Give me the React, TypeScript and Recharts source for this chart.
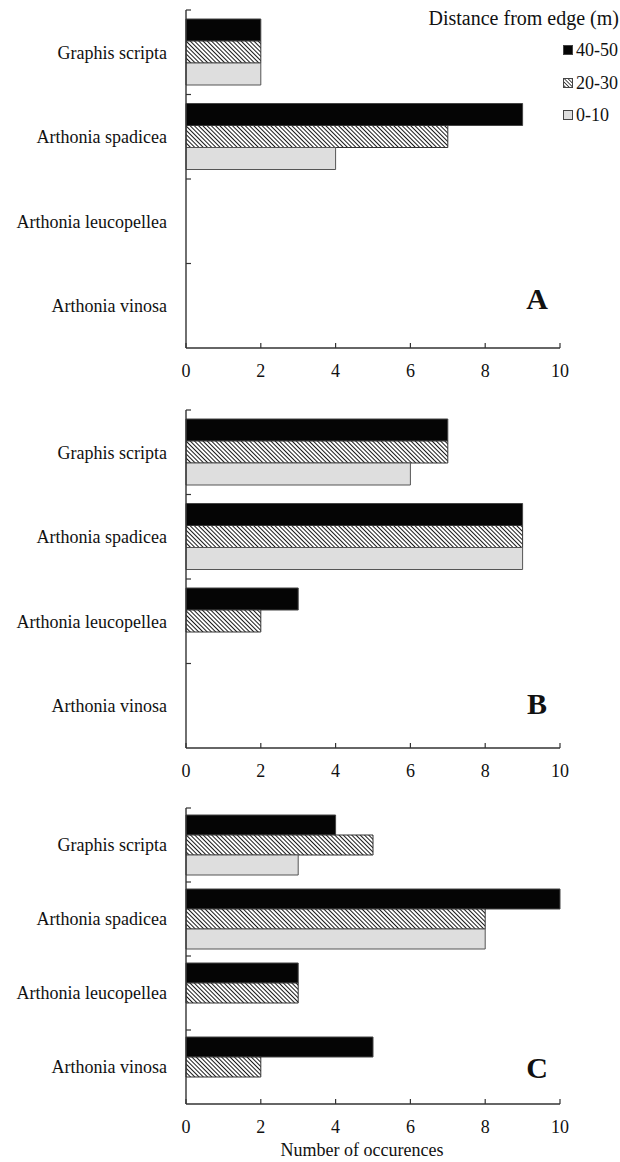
import React from "react";
import { BarChart, Bar, XAxis, YAxis } from "recharts";

// species on the vertical axis, top to bottom
const species = [
  "Graphis scripta",
  "Arthonia spadicea",
  "Arthonia leucopellea",
  "Arthonia vinosa",
];

// occurrences per distance class, one array per panel, same order as species
const panelA_40_50 = [2, 9, 0, 0];
const panelA_20_30 = [2, 7, 0, 0];
const panelA_0_10 = [2, 4, 0, 0];

const panelB_40_50 = [7, 9, 3, 0];
const panelB_20_30 = [7, 9, 2, 0];
const panelB_0_10 = [6, 9, 0, 0];

const panelC_40_50 = [4, 10, 3, 5];
const panelC_20_30 = [5, 8, 3, 2];
const panelC_0_10 = [3, 8, 0, 0];

const xTicks = [0, 2, 4, 6, 8, 10];

const FONT = '"Liberation Serif", "Times New Roman", serif';
const AXIS = "#333";
const LABEL_GAP = 19;

function rows(far: number[], mid: number[], near: number[]) {
  return species.map((name, i) => ({
    name,
    "40-50": far[i],
    "20-30": mid[i],
    "0-10": near[i],
  }));
}

// species name plus a short inward tick at the top edge of its band
function SpeciesTick(props: any) {
  const { x, y, payload, band } = props;
  const half = payload && typeof payload.offset === "number" && payload.offset > 0 ? payload.offset : band / 2;
  const axisX = x + LABEL_GAP;
  return (
    <g>
      <line x1={axisX} y1={y - half} x2={axisX + 5} y2={y - half} stroke={AXIS} strokeWidth={1.2} />
      <text
        x={x}
        y={y}
        dy="0.35em"
        textAnchor="end"
        fontFamily={FONT}
        fontSize={18}
        fill="#111"
      >
        {payload.value}
      </text>
    </g>
  );
}

interface PanelProps {
  id: string;
  data: ReturnType<typeof rows>;
  top: number;
  height: number;
  axisHeight: number;
  barSize: number;
  title?: string;
}

function Panel({ id, data, top, height, axisHeight, barSize, title }: PanelProps) {
  const hatch = `hatch-${id}`;
  const band = (height - 10 - axisHeight) / species.length;
  return (
    <div style={{ position: "absolute", left: 0, top }}>
      <BarChart
        width={620}
        height={height}
        data={data}
        layout="vertical"
        margin={{ top: 10, right: 60, bottom: 0, left: 0 }}
        barGap={0}
        barSize={barSize}
      >
        <defs>
          <pattern
            id={hatch}
            width="3"
            height="3"
            patternUnits="userSpaceOnUse"
            patternTransform="rotate(-45)"
          >
            <rect width="3" height="3" fill="#fff" />
            <line x1="0" y1="0" x2="0" y2="3" stroke="#000" strokeWidth="1.8" />
          </pattern>
        </defs>
        <YAxis
          type="category"
          dataKey="name"
          width={186}
          axisLine={{ stroke: AXIS, strokeWidth: 1.4 }}
          tickLine={false}
          tickSize={0}
          tickMargin={LABEL_GAP}
          tick={<SpeciesTick band={band} />}
        />
        <XAxis
          type="number"
          domain={[0, 10]}
          ticks={xTicks}
          height={axisHeight}
          tickSize={-5}
          tickMargin={21}
          axisLine={{ stroke: AXIS, strokeWidth: 1.4 }}
          tickLine={{ stroke: AXIS, strokeWidth: 1.2 }}
          tick={{ fontFamily: FONT, fontSize: 18, fill: "#111" }}
          label={
            title
              ? {
                  value: title,
                  position: "insideBottom",
                  offset: 6,
                  dx: -11,
                  style: { fontFamily: FONT, fontSize: 18, fill: "#111" },
                }
              : undefined
          }
        />
        <Bar dataKey="40-50" fill="#050505" stroke="#444" strokeWidth={1} isAnimationActive={false} />
        <Bar dataKey="20-30" fill={`url(#${hatch})`} stroke="#333" strokeWidth={1} isAnimationActive={false} />
        <Bar dataKey="0-10" fill="#dedede" stroke="#555" strokeWidth={1} isAnimationActive={false} />
      </BarChart>
    </div>
  );
}

const letterStyle: React.CSSProperties = {
  position: "absolute",
  left: 522,
  width: 30,
  textAlign: "center",
  fontFamily: FONT,
  fontWeight: "bold",
  fontSize: 30,
  lineHeight: "30px",
  color: "#111",
};

const legendItems = [
  { label: "40-50", fill: "#050505" },
  { label: "20-30", fill: "url(#hatch-legend)" },
  { label: "0-10", fill: "#dedede" },
];

function LegendBox() {
  return (
    <div style={{ position: "absolute", left: 0, top: 0, fontFamily: FONT, color: "#111" }}>
      <div style={{ position: "absolute", left: 400, width: 219, top: 6, textAlign: "right", fontSize: 20, lineHeight: "24px", whiteSpace: "nowrap" }}>
        Distance from edge (m)
      </div>
      {legendItems.map((item, i) => (
        <div
          key={item.label}
          style={{ position: "absolute", left: 563, top: 39 + i * 32.5, fontSize: 18, lineHeight: "22px", whiteSpace: "nowrap", display: "flex", alignItems: "center" }}
        >
          <svg width={10} height={10} style={{ marginRight: 3 }}>
            <defs>
              <pattern id="hatch-legend" width="2.6" height="2.6" patternUnits="userSpaceOnUse" patternTransform="rotate(-45)">
                <rect width="2.6" height="2.6" fill="#fff" />
                <line x1="0" y1="0" x2="0" y2="2.6" stroke="#000" strokeWidth="1.4" />
              </pattern>
            </defs>
            <rect x={0.5} y={0.5} width={9} height={9} fill={item.fill} stroke="#444" strokeWidth={1} />
          </svg>
          {item.label}
        </div>
      ))}
    </div>
  );
}

export default function App() {
  return (
    <div style={{ position: "absolute", left: 0, top: 0, width: 620, height: 1162, background: "#fff" }}>
      <Panel id="a" data={rows(panelA_40_50, panelA_20_30, panelA_0_10)} top={0} height={380} axisHeight={32} barSize={22} />
      <Panel id="b" data={rows(panelB_40_50, panelB_20_30, panelB_0_10)} top={400} height={380} axisHeight={32} barSize={22} />
      <Panel
        id="c"
        data={rows(panelC_40_50, panelC_20_30, panelC_0_10)}
        top={798}
        height={364}
        axisHeight={58}
        barSize={20}
        title="Number of occurences"
      />
      <LegendBox />
      <div style={{ ...letterStyle, top: 284 }}>A</div>
      <div style={{ ...letterStyle, top: 689 }}>B</div>
      <div style={{ ...letterStyle, top: 1053 }}>C</div>
    </div>
  );
}
